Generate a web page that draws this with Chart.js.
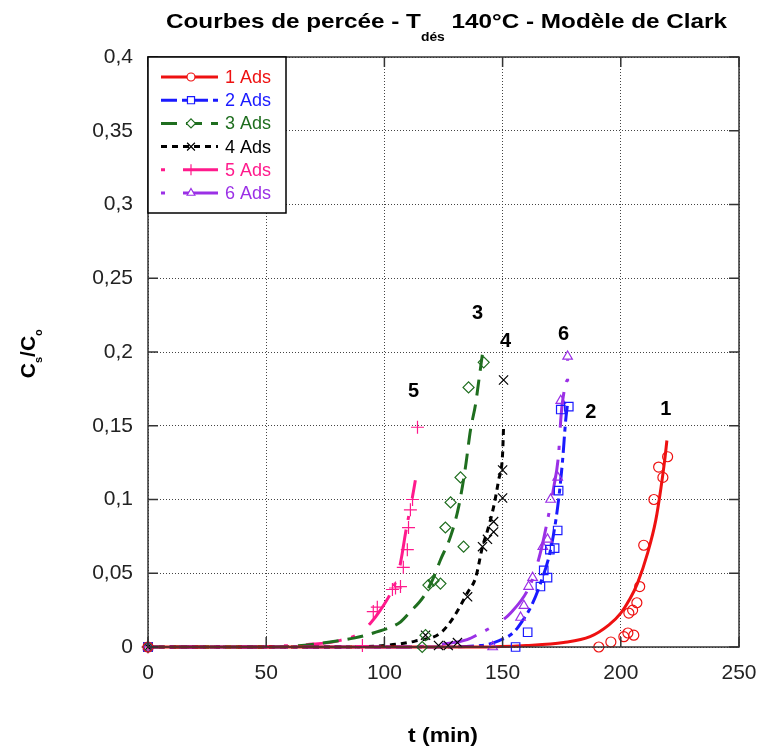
<!DOCTYPE html>
<html>
<head>
<meta charset="utf-8">
<script src="https://cdn.jsdelivr.net/npm/chart.js@4.4.1/dist/chart.umd.min.js"></script>
<style>
  html, body { margin: 0; padding: 0; background: #fff; }
  #wrap { width: 760px; height: 749px; }
</style>
</head>
<body>
<div id="wrap"><canvas id="myChart" width="760" height="749"></canvas></div>
<script>
// axis ticks
const xTicks = [0, 50, 100, 150, 200, 250];
const yTicks = [0, 0.05, 0.1, 0.15, 0.2, 0.25, 0.3, 0.35, 0.4];

// series names and colours
const seriesNames = ['1 Ads', '2 Ads', '3 Ads', '4 Ads', '5 Ads', '6 Ads'];
const seriesColors = ['#ee1111', '#1a1aff', '#1f6e1f', '#000000', '#ff1a8c', '#9b30e6'];

// measured points [t (min), Cs/Co]
const pts1 = [[0, 0], [190.7, 0], [195.8, 0.0034], [201.3, 0.007], [203, 0.0095], [203.4, 0.023], [205, 0.025],
  [205.5, 0.008], [206.8, 0.03], [208, 0.041], [209.7, 0.069], [214, 0.1], [216, 0.122], [217.8, 0.115], [219.8, 0.129]];
const pts2 = [[0, 0], [155.5, 0], [160.6, 0.01], [166, 0.041], [167.4, 0.052], [169, 0.047], [170, 0.066],
  [172, 0.067], [173.3, 0.079], [173.7, 0.106], [174.6, 0.161], [178, 0.163]];
const pts3 = [[0, 0], [116, 0], [117.4, 0.008], [118.6, 0.042], [120.8, 0.045], [123.7, 0.043], [125.8, 0.081],
  [128, 0.098], [132.2, 0.115], [133.5, 0.068], [135.6, 0.176], [142, 0.193]];
const pts4 = [[0, 0], [117.4, 0.008], [122.9, 0.001], [127, 0.001], [130.9, 0.003], [135.2, 0.034], [141.5, 0.068],
  [143.6, 0.073], [146.2, 0.078], [146.2, 0.085], [150, 0.101], [150, 0.12], [150.4, 0.181]];
const pts5 = [[0, 0], [90.7, 0.001], [95.3, 0.024], [97, 0.027], [103.4, 0.039], [104.7, 0.04], [106.8, 0.041],
  [108, 0.054], [109.7, 0.066], [110.2, 0.081], [111, 0.093], [111.9, 0.1], [114, 0.149]];
const pts6 = [[0, 0], [145.8, 0], [157.6, 0.02], [159, 0.028], [161, 0.041], [162.7, 0.047], [167, 0.068],
  [169, 0.073], [170.3, 0.1], [173.3, 0.115], [174.6, 0.167], [177.5, 0.197]];

// model curves (Clark)
const fit1 = [[0, 0], [140, 0], [160, 0.001], [175.8, 0.003], [187, 0.007], [195, 0.015], [200, 0.023], [204, 0.033],
  [207, 0.043], [211.4, 0.064], [214.8, 0.086], [217, 0.108], [218.6, 0.127], [219.5, 0.14]];
const fit2 = [[0, 0], [120, 0], [140.7, 0.001], [148, 0.004], [154.7, 0.01], [158.5, 0.018], [161.9, 0.027],
  [166, 0.043], [170.3, 0.066], [173.3, 0.095], [175.4, 0.127], [176.7, 0.154], [177.5, 0.165]];
const fit3 = [[0, 0], [50, 0], [65, 0.001], [77, 0.0034], [87, 0.006], [95.3, 0.0095], [106.8, 0.017], [111, 0.024],
  [116.5, 0.034], [120.5, 0.046], [123.7, 0.059], [128, 0.075], [131.4, 0.095], [134.3, 0.122], [136.4, 0.147],
  [138.6, 0.165], [139.8, 0.179], [141.5, 0.199]];
const fit4 = [[0, 0], [80, 0], [100, 0.001], [113, 0.004], [123.7, 0.0095], [129.2, 0.02], [135.2, 0.037],
  [138.6, 0.047], [141.5, 0.068], [144, 0.081], [146.2, 0.095], [148.3, 0.113], [150, 0.131], [150.4, 0.149]];
const fit5 = [[0, 0], [45, 0], [60, 0.001], [70, 0.002], [80, 0.004], [89.8, 0.0095], [94, 0.016], [98.3, 0.025],
  [103.4, 0.039], [105.9, 0.05], [107.6, 0.064], [108.9, 0.077], [110.2, 0.088], [111.9, 0.102], [113.1, 0.113]];
const fit6 = [[0, 0], [110, 0], [125, 0.002], [135, 0.005], [140.7, 0.0095], [147, 0.015], [153.4, 0.023],
  [161.9, 0.043], [166, 0.064], [169, 0.086], [171.6, 0.108], [173.7, 0.131], [174.6, 0.154], [175.4, 0.167],
  [177.5, 0.181], [177.5, 0.195]];

// curve number labels [text, t, Cs/Co]
const curveLabels = [['1', 219, 0.161], ['2', 187.3, 0.159], ['3', 139.4, 0.2264],
  ['4', 151.3, 0.2068], ['5', 112.3, 0.1729], ['6', 175.8, 0.2122]];

const pointSets = [pts1, pts2, pts3, pts4, pts5, pts6];
const fitSets = [fit1, fit2, fit3, fit4, fit5, fit6];
const markerStyles = ['circle', 'rect', 'rectRot', 'crossRot', 'cross', 'triangle'];
const markerRadius = [5, 6, 5.5, 6.5, 6.5, 5.5];
const dashes = [[], [16, 5, 5, 5], [16, 9], [6, 5], [4, 18, 36, 10], [4, 18, 36, 10]];

const FONT = 'Liberation Sans, Arial, sans-serif';

const datasets = [];
for (let i = 0; i < 6; i++) {
  datasets.push({
    label: seriesNames[i] + ' pts',
    data: pointSets[i].map(p => ({x: p[0], y: p[1]})),
    showLine: false,
    pointStyle: markerStyles[i],
    pointRadius: markerRadius[i],
    pointBorderWidth: 1.2,
    pointBorderColor: seriesColors[i],
    pointBackgroundColor: 'rgba(0,0,0,0)',
    clip: 8
  });
}
for (let i = 0; i < 6; i++) {
  datasets.push({
    label: seriesNames[i],
    data: fitSets[i].map(p => ({x: p[0], y: p[1]})),
    showLine: true,
    borderColor: seriesColors[i],
    borderWidth: 3,
    borderDash: dashes[i],
    pointRadius: 0,
    tension: 0.3,
    cubicInterpolationMode: 'monotone',
    clip: 4
  });
}

// text squeezed/stretched to a given width
function fitText(ctx, parts, x0, width) {
  // parts: [text, font, dy]
  let total = 0;
  parts.forEach(p => { ctx.font = p[1]; total += ctx.measureText(p[0]).width; });
  const k = width / total;
  ctx.save();
  ctx.translate(x0, 0);
  ctx.scale(k, 1);
  let cx = 0;
  parts.forEach(p => { ctx.font = p[1]; ctx.fillText(p[0], cx, p[2]); cx += ctx.measureText(p[0]).width; });
  ctx.restore();
}

// title, axis titles, frame, legend and curve numbers
const decorPlugin = {
  id: 'decor',
  afterDraw(chart) {
    const {ctx, chartArea: {left, right, top, bottom}, scales: {x, y}} = chart;
    ctx.save();

    // frame + inward ticks
    ctx.strokeStyle = '#333';
    ctx.lineWidth = 1.5;
    ctx.setLineDash([]);
    ctx.strokeRect(left, top, right - left, bottom - top);
    ctx.beginPath();
    xTicks.forEach(v => {
      const px = x.getPixelForValue(v);
      ctx.moveTo(px, bottom); ctx.lineTo(px, bottom - 10);
      ctx.moveTo(px, top); ctx.lineTo(px, top + 10);
    });
    yTicks.forEach(v => {
      const py = y.getPixelForValue(v);
      ctx.moveTo(left, py); ctx.lineTo(left + 10, py);
      ctx.moveTo(right, py); ctx.lineTo(right - 10, py);
    });
    ctx.stroke();

    // title with subscript
    ctx.fillStyle = '#000';
    ctx.textBaseline = 'alphabetic';
    ctx.textAlign = 'left';
    ctx.save();
    ctx.translate(0, 28);
    fitText(ctx, [
      ['Courbes de percée - T', 'bold 21px ' + FONT, 0],
      ['dés', 'bold 12px ' + FONT, 13],
      [' 140°C - Modèle de Clark', 'bold 21px ' + FONT, 0]
    ], 166, 561);
    ctx.restore();

    // x axis title
    ctx.save();
    ctx.translate(0, 742);
    fitText(ctx, [['t (min)', 'bold 21px ' + FONT, 0]], 408, 70);
    ctx.restore();

    // y axis title  Cs/Co
    ctx.save();
    ctx.translate(35, 354);
    ctx.rotate(-Math.PI / 2);
    ctx.textAlign = 'left';
    const bigF = 'bold 21px ' + FONT, smF = 'bold 11px ' + FONT;
    ctx.font = bigF; const cw = ctx.measureText('C').width;
    ctx.font = smF; const sw = ctx.measureText('s').width;
    ctx.font = bigF; const slw = ctx.measureText('/').width;
    let ax = -(cw * 2 + sw * 2 + slw) / 2;
    ctx.font = bigF; ctx.fillText('C', ax, 0); ax += cw;
    ctx.font = smF; ctx.fillText('s', ax, 7); ax += sw;
    ctx.font = bigF; ctx.fillText('/', ax, 0); ax += slw;
    ctx.fillText('C', ax, 0); ax += cw;
    ctx.font = smF; ctx.fillText('o', ax, 7);
    ctx.restore();

    // curve numbers
    ctx.font = 'bold 20px ' + FONT;
    ctx.textAlign = 'center';
    ctx.textBaseline = 'middle';
    curveLabels.forEach(([txt, t, c]) => {
      ctx.fillText(txt, x.getPixelForValue(t), y.getPixelForValue(c));
    });

    // legend box
    const lx = left, ly = top, lw = 138, lh = 156;
    ctx.fillStyle = '#fff';
    ctx.fillRect(lx, ly, lw, lh);
    ctx.strokeStyle = '#000';
    ctx.lineWidth = 1.5;
    ctx.strokeRect(lx, ly, lw, lh);
    ctx.font = '18px ' + FONT;
    ctx.textAlign = 'left';
    for (let i = 0; i < 6; i++) {
      const ry = ly + 20 + i * 23.2;
      ctx.strokeStyle = seriesColors[i];
      ctx.lineWidth = 3;
      ctx.setLineDash(dashes[i]);
      ctx.beginPath();
      ctx.moveTo(lx + 13, ry); ctx.lineTo(lx + 70, ry);
      ctx.stroke();
      ctx.setLineDash([]);
      ctx.fillStyle = '#fff';
      ctx.lineWidth = 1.2;
      Chart.helpers.drawPoint(ctx, {
        pointStyle: markerStyles[i], radius: markerRadius[i] - 1,
        rotation: 0, borderWidth: 1.2
      }, lx + 43, ry);
      ctx.fillStyle = seriesColors[i];
      ctx.fillText(seriesNames[i], lx + 77, ry + 1);
    }
    ctx.restore();
  }
};

const config = {
  type: 'scatter',
  data: {datasets},
  options: {
    responsive: false,
    animation: false,
    layout: {padding: {left: 0, right: 21, top: 57, bottom: 0}},
    plugins: {
      legend: {display: false},
      tooltip: {enabled: false},
      title: {display: false}
    },
    scales: {
      x: {
        type: 'linear', min: 0, max: 250,
        afterFit(scale) { scale.height = 102; scale.paddingRight = 0; scale.paddingLeft = 0; },
        afterBuildTicks(scale) { scale.ticks = xTicks.map(v => ({value: v})); },
        grid: {color: '#444', lineWidth: 1, drawTicks: false},
        border: {display: false, dash: [1, 2]},
        ticks: {padding: 14, color: '#222', font: {family: FONT, size: 21}, maxRotation: 0}
      },
      y: {
        type: 'linear', min: 0, max: 0.4,
        afterFit(scale) { scale.width = 148; scale.paddingTop = 0; scale.paddingBottom = 0; },
        afterBuildTicks(scale) { scale.ticks = yTicks.map(v => ({value: v})); },
        grid: {color: '#444', lineWidth: 1, drawTicks: false},
        border: {display: false, dash: [1, 2]},
        ticks: {
          padding: 15, color: '#222', font: {family: FONT, size: 21},
          callback: v => String(Math.round(v * 100) / 100).replace('.', ',')
        }
      }
    }
  },
  plugins: [decorPlugin]
};

const myChart = new Chart(document.getElementById('myChart'), config);
</script>
</body>
</html>
